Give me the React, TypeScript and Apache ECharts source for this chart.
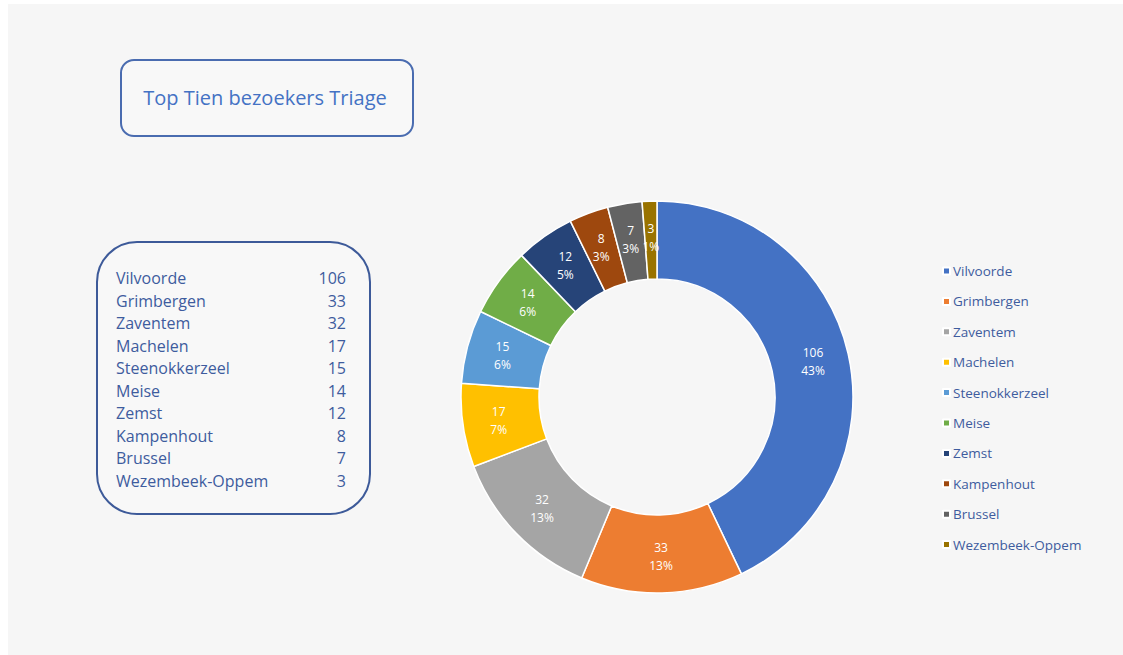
import React, { useEffect, useRef } from "react";
import * as echarts from "echarts";

const categories = [
  "Vilvoorde",
  "Grimbergen",
  "Zaventem",
  "Machelen",
  "Steenokkerzeel",
  "Meise",
  "Zemst",
  "Kampenhout",
  "Brussel",
  "Wezembeek-Oppem",
];
const visitors = [106, 33, 32, 17, 15, 14, 12, 8, 7, 3];
const colors = [
  "#4472C4",
  "#ED7D31",
  "#A5A5A5",
  "#FFC000",
  "#5B9BD5",
  "#70AD47",
  "#264478",
  "#9E480E",
  "#636363",
  "#997300",
];
const titleText = "Top Tien bezoekers Triage";

const FONT = "'Open Sans', 'Noto Sans', sans-serif";
const TEXT_BLUE = "#3E5C9E";

export default function App() {
  const ref = useRef<HTMLDivElement>(null);
  useEffect(() => {
    if (!ref.current) return;
    const chart = echarts.init(ref.current, undefined, { renderer: "svg" });
    const tableTexts: any[] = [];
    categories.forEach((c, i) => {
      const y = 278 + i * 22.55;
      tableTexts.push({
        type: "text",
        x: 116,
        y: y,
        style: {
          text: c,
          fill: TEXT_BLUE,
          font: `16px ${FONT}`,
          verticalAlign: "middle",
        },
        z: 10,
      });
      tableTexts.push({
        type: "text",
        x: 346,
        y: y,
        style: {
          text: String(visitors[i]),
          fill: TEXT_BLUE,
          font: `16px ${FONT}`,
          align: "right",
          verticalAlign: "middle",
        },
        z: 10,
      });
    });
    chart.setOption({
      animation: false,
      backgroundColor: "#ffffff",
      color: colors,
      graphic: [
        {
          type: "rect",
          shape: { x: 8, y: 4, width: 1115, height: 651 },
          style: { fill: "#F6F6F6" },
          z: 0,
        },
        {
          type: "rect",
          shape: { x: 121, y: 60, width: 292, height: 76, r: 13 },
          style: { fill: "#F8F8F8", stroke: "#4A6CB0", lineWidth: 2 },
          z: 5,
        },
        {
          type: "text",
          x: 265,
          y: 97,
          style: {
            text: titleText,
            fill: "#4472C4",
            font: `20px ${FONT}`,
            align: "center",
            verticalAlign: "middle",
          },
          z: 10,
        },
        {
          type: "rect",
          shape: { x: 97, y: 242, width: 273, height: 272, r: 40 },
          style: { fill: "#F8F8F8", stroke: "#3D5A99", lineWidth: 2 },
          z: 5,
        },
        ...tableTexts,
      ],
      legend: {
        orient: "vertical",
        left: 937,
        top: 259,
        itemWidth: 7,
        itemHeight: 7,
        itemGap: 16.4,
        icon: "rect",
        textStyle: {
          color: TEXT_BLUE,
          fontSize: 13.5,
          lineHeight: 13,
          fontFamily: FONT,
          padding: [0, 0, 0, -2],
        },
        data: categories,
      },
      series: [
        {
          type: "pie",
          center: [657, 397],
          radius: [118, 196],
          startAngle: 90,
          clockwise: true,
          percentPrecision: 0,
          avoidLabelOverlap: false,
          itemStyle: { borderColor: "#ffffff", borderWidth: 1.5 },
          label: {
            show: true,
            position: "inside",
            formatter: "{c}\n{d}%",
            color: "#ffffff",
            fontSize: 12,
            fontFamily: FONT,
            lineHeight: 18,
          },
          labelLine: { show: false },
          emphasis: { disabled: true },
          data: categories.map((c, i) => ({ name: c, value: visitors[i] })),
        },
      ],
    });
    return () => chart.dispose();
  }, []);
  return (
    <div
      ref={ref}
      style={{ position: "fixed", left: 0, top: 0, width: 1123, height: 655 }}
    />
  );
}
